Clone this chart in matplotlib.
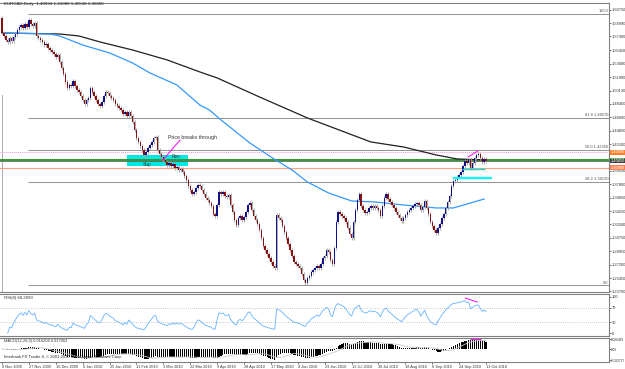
import numpy as np
import pandas as pd
import matplotlib
matplotlib.use("Agg")
import matplotlib.pyplot as plt
from matplotlib.patches import Rectangle

plt.rcParams["font.family"] = ["Liberation Sans", "DejaVu Sans"]

# ── Data: EURCAD daily closes ──────────────────────────────────────────────
first_open = 1.5970
closes = [
    1.5772, 1.5733, 1.5680, 1.5654, 1.5707, 1.5667, 1.5720, 1.5759, 1.5812, 1.5851,
    1.5878, 1.5838, 1.5891, 1.5851, 1.5944, 1.5891, 1.5865, 1.5904, 1.5733, 1.5707,
    1.5680, 1.5654, 1.5614, 1.5628, 1.5575, 1.5548, 1.5522, 1.5496, 1.5456, 1.5483,
    1.5390, 1.5311, 1.5232, 1.5127, 1.5048, 1.5088, 1.5074, 1.5140, 1.5074, 1.5022,
    1.4995, 1.4943, 1.4890, 1.4837, 1.4890, 1.4916, 1.5048, 1.4995, 1.4943, 1.4890,
    1.4837, 1.4811, 1.4864, 1.4943, 1.4995, 1.4982, 1.4943, 1.4916, 1.4890, 1.4837,
    1.4811, 1.4785, 1.4758, 1.4706, 1.4732, 1.4679, 1.4732, 1.4679, 1.4600, 1.4495,
    1.4390, 1.4337, 1.4284, 1.4232, 1.4166, 1.4205, 1.4258, 1.4297, 1.4337, 1.4390,
    1.4403, 1.4232, 1.4179, 1.4139, 1.4100, 1.4074, 1.4034, 1.4060, 1.4021, 1.4047,
    1.3994, 1.4008, 1.3968, 1.3981, 1.3942, 1.3889, 1.3836, 1.3757, 1.3704, 1.3652,
    1.3678, 1.3731, 1.3771, 1.3757, 1.3704, 1.3652, 1.3599, 1.3573, 1.3534, 1.3494,
    1.3389, 1.3362, 1.3507, 1.3678, 1.3652, 1.3678, 1.3626, 1.3613, 1.3639, 1.3507,
    1.3415, 1.3310, 1.3244, 1.3336, 1.3362, 1.3310, 1.3349, 1.3415, 1.3507, 1.3534,
    1.3441, 1.3362, 1.3310, 1.3257, 1.3178, 1.3073, 1.2967, 1.2915, 1.2862, 1.2809,
    1.2756, 1.2704, 1.2677, 1.3375, 1.3336, 1.3310, 1.3231, 1.3152, 1.3073, 1.2994,
    1.2915, 1.2836, 1.2756, 1.2730, 1.2704, 1.2677, 1.2598, 1.2519, 1.2480, 1.2546,
    1.2572, 1.2625, 1.2651, 1.2677, 1.2704, 1.2677, 1.2730, 1.2809, 1.2836, 1.2915,
    1.2888, 1.2783, 1.2730, 1.2941, 1.3283, 1.3415, 1.3389, 1.3362, 1.3336, 1.3283,
    1.3204, 1.3125, 1.3073, 1.3283, 1.3441, 1.3573, 1.3652, 1.3494, 1.3441, 1.3402,
    1.3415, 1.3468, 1.3494, 1.3468, 1.3494, 1.3468, 1.3441, 1.3362, 1.3494, 1.3599,
    1.3652, 1.3586, 1.3547, 1.3507, 1.3468, 1.3415, 1.3375, 1.3336, 1.3296, 1.3336,
    1.3375, 1.3415, 1.3441, 1.3468, 1.3494, 1.3520, 1.3534, 1.3507, 1.3441, 1.3481,
    1.3560, 1.3468, 1.3389, 1.3283, 1.3231, 1.3178, 1.3139, 1.3204, 1.3257, 1.3336,
    1.3389, 1.3468, 1.3547, 1.3626, 1.3757, 1.3823, 1.3836, 1.3876, 1.3902, 1.3942,
    1.4021, 1.4087, 1.4060, 1.4100, 1.3994, 1.4060, 1.4126, 1.4166, 1.4179, 1.4126,
    1.4074, 1.4113, 1.4085,
]
wick = 0.0025

date_labels = ["9 Nov 2009", "27 Nov 2009", "16 Dec 2009", "6 Jan 2010", "25 Jan 2010",
               "11 Feb 2010", "3 Mar 2010", "22 Mar 2010", "9 Apr 2010", "28 Apr 2010",
               "17 May 2010", "4 Jun 2010", "23 Jun 2010", "12 Jul 2010", "30 Jul 2010",
               "18 Aug 2010", "6 Sep 2010", "24 Sep 2010", "13 Oct 2010"]
date_step = 14

price_ticks = [1.60750, 1.58990, 1.57300, 1.55450, 1.53680, 1.51900, 1.50130, 1.48400,
               1.46600, 1.44850, 1.43100, 1.39550, 1.37800, 1.36050, 1.34250, 1.32500,
               1.30750, 1.28950, 1.27200, 1.25450, 1.23700]

# moving averages (slow = black, fast = blue)
ma_slow_bars = [0, 30, 40, 51, 68, 86, 103, 112, 134, 159, 192, 209, 226, 237, 252]
ma_slow_vals = [1.5772, 1.5759, 1.5733, 1.5654, 1.5548, 1.5417, 1.5259, 1.5180, 1.4930,
                1.4653, 1.4337, 1.4271, 1.4166, 1.4113, 1.4100]
ma_fast_bars = [0, 25, 30, 42, 56, 68, 77, 91, 103, 108, 114, 129, 140, 151, 159, 170,
                182, 194, 209, 226, 235, 244, 251]
ma_fast_vals = [1.5772, 1.5759, 1.5733, 1.5614, 1.5509, 1.5377, 1.5246, 1.5088, 1.4824,
                1.4758, 1.4627, 1.4324, 1.4139, 1.3968, 1.3810, 1.3665, 1.3560, 1.3547,
                1.3507, 1.3468, 1.3468, 1.3534, 1.3586]

# fibonacci retracement
fib_high, fib_low = 1.6023, 1.2447
fib_levels = [100.0, 61.8, 50.0, 38.2, 0.0]
fib_start = 13.5

# horizontal levels
lvl_pink, lvl_green, lvl_bid, lvl_orange = 1.4200, 1.4100, 1.4085, 1.4000

# annotations
zone_bars, zone_prices = (65.1, 96.8), (1.4021, 1.4166)
arrow_bars, arrow_prices = (83.8, 92.7), (1.4100, 1.4363)
cyan1_bars, cyan1_price = (234.8, 255.0), 1.3856
cyan2_bars, cyan2_price = (239.5, 251.5), 1.3981
div_bars, div_prices = (242.7, 247.8), (1.4140, 1.4219)
rsi_div_bars, rsi_div_vals = (241.2, 247.4), (97.0, 86.0)
macd_div_bars = (243.6, 249.4)

# ── Indicators ─────────────────────────────────────────────────────────────
s = pd.Series(closes)
opens = [first_open] + closes[:-1]
d = s.diff()
au = d.clip(lower=0).ewm(alpha=1 / 8, adjust=False).mean()
ad = (-d.clip(upper=0)).ewm(alpha=1 / 8, adjust=False).mean()
rsi = 100 - 100 / (1 + au / ad)
rsi[:3] = np.nan
macd = s.ewm(span=12, adjust=False).mean() - s.ewm(span=26, adjust=False).mean()
signal = macd.rolling(9, min_periods=1).mean()

# ── Figure ─────────────────────────────────────────────────────────────────
W, H = 625, 369
fig = plt.figure(figsize=(W / 100, H / 100), dpi=100)
fig.patch.set_facecolor("white")
LBL = 2.9


def px_axes(top, bottom):
    return fig.add_axes([0, (H - bottom) / H, 609 / W, (bottom - top) / H])


ax = px_axes(3, 292)
ax_rsi = px_axes(294, 336)
ax_macd = px_axes(338, 362)

n = len(closes)
idx = np.arange(n)
xlim = (-1.04, 316.0)

for a in (ax, ax_rsi, ax_macd):
    a.set_xlim(*xlim)
    a.set_facecolor("white")
    for sp in a.spines.values():
        sp.set_color("#808080")
        sp.set_linewidth(0.8)
    a.spines["left"].set_visible(False)
    a.yaxis.tick_right()
    a.tick_params(axis="y", direction="out", length=1.5, width=0.5, pad=0.6,
                  labelsize=LBL, colors="#333333")
    a.tick_params(axis="x", bottom=False, labelbottom=False)

# main price panel
ax.set_ylim(1.2361, 1.6167)
ax.set_yticks(price_ticks)
ax.set_yticklabels([f"{p:.5f}" for p in price_ticks])

ax.axvline(0, ymax=0.68, color="#a0a0a0", lw=0.6, zorder=1)

# support/resistance zone
ax.add_patch(Rectangle((zone_bars[0], zone_prices[0]), zone_bars[1] - zone_bars[0],
                       zone_prices[1] - zone_prices[0], color="#00e8e8", lw=0, zorder=1))

# horizontal levels
ax.axhline(lvl_pink, color="#ff99cc", lw=0.7, ls=(0, (1, 1)), zorder=1)
ax.axhline(lvl_green, color="#2e9a2e", lw=1.4, zorder=1)
ax.axhline(lvl_bid, color="#606060", lw=0.6, zorder=1)
ax.axhline(lvl_orange, color="#ffa07a", lw=0.8, zorder=1)

# fibonacci lines
for lv in fib_levels:
    p = fib_low + (fib_high - fib_low) * lv / 100
    ax.hlines(p, fib_start, xlim[1], color="#909090", lw=0.7, zorder=1)
    txt = "100.0" if lv == 100 else ("0.0" if lv == 0 else f"{lv:.1f} {p:.5f}")
    ax.text(xlim[1] - 0.5, p + 0.0008, txt, ha="right", va="bottom",
            fontsize=2.9, color="#505050")

# moving averages
ax.plot(ma_slow_bars, ma_slow_vals, color="#202020", lw=0.9, zorder=2)
ax.plot(ma_fast_bars, ma_fast_vals, color="#3399ff", lw=0.9, zorder=2)

# candles
o = np.array(opens)
c = np.array(closes)
up = c >= o
top = np.maximum(o, c)
bot = np.minimum(o, c)
ax.vlines(idx, bot - wick, top + wick, color="#a0a0a0", lw=0.6, zorder=3)
ax.bar(idx, np.maximum(top - bot, 0.0004), bottom=bot, width=0.75,
       color=np.where(up, "#10108a", "#8a1010"), lw=0, zorder=4)

# annotations
ax.text(86.4, 1.4390, "Price breaks through", fontsize=3.8, color="#333333",
        ha="left", va="center")
ax.plot(arrow_bars, arrow_prices, color="#ff00ff", lw=0.7, zorder=5)
ax.text(73.5, 1.4045, "Sup", fontsize=3.5, color="#333333", va="center")
ax.text(88.5, 1.4145, "Res", fontsize=3.5, color="#333333", va="center")
ax.hlines(cyan1_price, *cyan1_bars, color="#00ffff", lw=1.6, zorder=5)
ax.hlines(cyan2_price, *cyan2_bars, color="#00e0e0", lw=1.0, zorder=5)
ax.plot(div_bars, div_prices, color="#ff00ff", lw=0.7, zorder=5)

# right-side price boxes
for val, fc in [(lvl_pink, "#ff7f27"), (lvl_green, "#2e9a2e"),
                (lvl_bid, "#404040"), (lvl_orange, "#ff7f50")]:
    ax.text(1.003, val, f"{val:.5f}", transform=ax.get_yaxis_transform(),
            fontsize=LBL, color="white", ha="left", va="center", clip_on=False,
            zorder=6, bbox=dict(boxstyle="square,pad=0.1", fc=fc, ec="none"))

fig.text(4 / W, 1 - 2 / H, "EURCAD,Daily  1.40694 1.41080 1.40538 1.40850",
         fontsize=3.2, color="#222222", va="top", ha="left")

# RSI panel
ax_rsi.set_ylim(-8.3, 108.3)
ax_rsi.set_yticks([100, 70, 30, 0])
ax_rsi.set_yticklabels(["100", "70", "30", "0"])
for lvl in (70, 30):
    ax_rsi.axhline(lvl, color="#a0a0a0", lw=0.5, ls=(0, (1, 2)))
ax_rsi.plot(idx, rsi, color="#66b3ff", lw=0.6)
ax_rsi.plot(rsi_div_bars, rsi_div_vals, color="#ff00ff", lw=0.7)
ax_rsi.text(1, 104, "RSI(8) 68.2899", fontsize=3.1, color="#333333", va="top")

# MACD panel
ax_macd.set_ylim(-0.0267, 0.0226)
ax_macd.set_yticks([0.020499, 0.0, -0.022737])
ax_macd.set_yticklabels(["0.020499", "0.00", "-0.022737"])
ax_macd.tick_params(axis="y", labelsize=2.25, pad=0.2, length=1.2)
ax_macd.bar(idx, macd, width=0.6, color="black", lw=0, antialiased=False)
ax_macd.plot(idx, signal, color="#c8c8c8", lw=0.6)
ax_macd.hlines(0.0205, *macd_div_bars, color="#ff00ff", lw=0.8)
ax_macd.text(1, 0.0215, "MACD(12,26,9) 0.016204 0.017063", fontsize=2.9,
             color="#333333", va="top")
ax_macd.text(1, -0.016, "Interbank FX Trader 4, \u00a9 2001-2010 MetaQuotes Software Corp.",
             fontsize=3.0, color="#222222", va="center")

# date axis
date_bars = np.arange(len(date_labels)) * date_step
ax_macd.tick_params(axis="x", bottom=True, labelbottom=True, length=1.5, width=0.5,
                    pad=0.5, labelsize=2.8, colors="#333333")
ax_macd.set_xticks(date_bars)
ax_macd.set_xticklabels(date_labels, ha="left")

fig.savefig("out.png", dpi=100, facecolor="white")
